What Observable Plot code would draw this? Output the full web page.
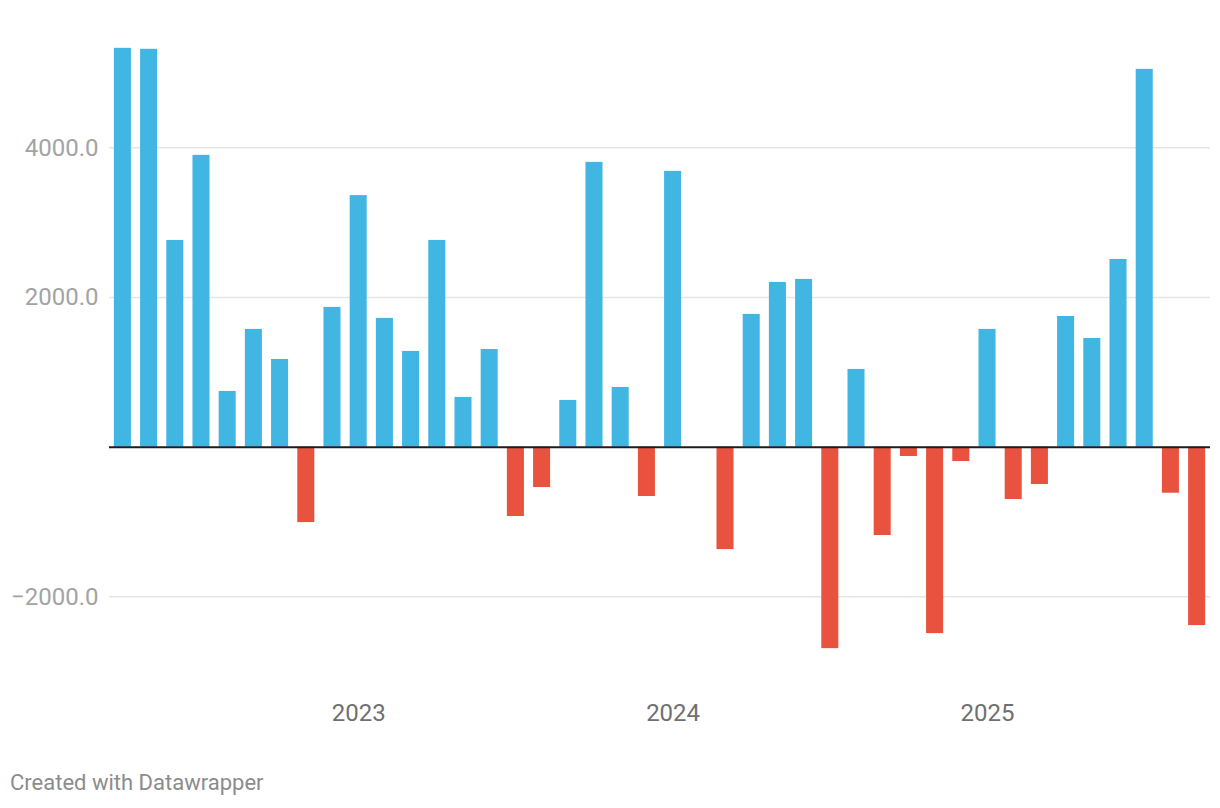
<!DOCTYPE html>
<html><head><meta charset="utf-8">
<script src="https://cdn.jsdelivr.net/npm/d3@7"></script>
<script src="https://cdn.jsdelivr.net/npm/@observablehq/plot@0.6"></script>
<style>
body{margin:0;background:#fff;font-family:Roboto,sans-serif;}
#chart{position:absolute;left:0;top:0;}
#caption{position:absolute;left:10px;top:772px;font-size:22px;line-height:22px;color:#8c8c8c;font-family:Roboto,sans-serif;}
</style></head><body>
<div id="chart"></div>
<div id="caption">Created with Datawrapper</div>
<script>
const months = [
  "2022-04","2022-05","2022-06","2022-07","2022-08","2022-09","2022-10","2022-11","2022-12",
  "2023-01","2023-02","2023-03","2023-04","2023-05","2023-06","2023-07","2023-08","2023-09","2023-10","2023-11","2023-12",
  "2024-01","2024-02","2024-03","2024-04","2024-05","2024-06","2024-07","2024-08","2024-09","2024-10","2024-11","2024-12",
  "2025-01","2025-02","2025-03","2025-04","2025-05","2025-06","2025-07","2025-08","2025-09"
];
const values = [
  5330, 5317, 2763, 3900, 745, 1574, 1172, -1007, 1868,
  3362, 1721, 1280, 2763, 665, 1306, -926, -539, 625, 3806, 798, -659,
  3686, 0, -1368, 1774, 2202, 2242, -2692, 1039, -1180, -124, -2491, -191,
  1574, -699, -499, 1747, 1453, 2509, 5049, -615, -2384
];
const yTicks = [-2000, 2000, 4000];
const xTicks = ["2023-01", "2024-01", "2025-01"];

const data = months.map((m, i) => ({month: m, value: values[i]}));

const chart = Plot.plot({
  width: 1220,
  height: 740,
  marginLeft: 109,
  marginRight: 10,
  marginTop: 42.6,
  marginBottom: 68.8,
  style: {fontFamily: "Roboto, sans-serif", background: "white"},
  x: {type: "band", domain: months, paddingInner: 0.35, paddingOuter: 0.186, round: false},
  y: {domain: [-3000, 5400]},
  color: {domain: ["pos", "neg"], range: ["#41b6e2", "#e9523e"]},
  marks: [
    Plot.ruleY(yTicks, {stroke: "#e5e5e5", strokeWidth: 1.5}),
    Plot.barY(data, {x: "month", y: "value", fill: d => d.value >= 0 ? "pos" : "neg"}),
    Plot.ruleY([0], {stroke: "#1d1d1d", strokeWidth: 2}),
    Plot.axisY(yTicks, {tickSize: 0, tickPadding: 11, tickFormat: d3.format(".1f"), fontSize: 24, fill: "#a3a3a3", label: null}),
    Plot.axisX(xTicks, {tickSize: 0, tickPadding: 32, tickFormat: d => d.slice(0, 4), fontSize: 24, fill: "#707070", label: null})
  ]
});
document.getElementById("chart").appendChild(chart);
</script>
</body></html>
